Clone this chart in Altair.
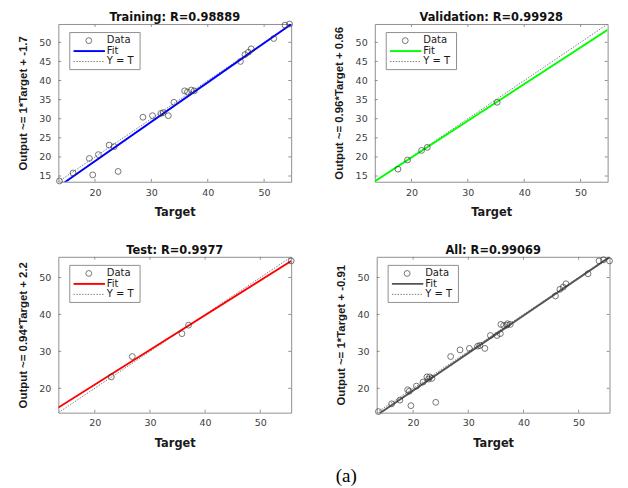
import altair as alt
import pandas as pd

# ---------------- data ----------------
train_target = [13.7, 16.1, 19.0, 19.6, 20.6, 22.5, 23.4, 24.1, 28.5, 30.2, 31.7, 32.1, 33.0,
                34.0, 35.9, 36.4, 37.1, 37.6, 45.8, 46.6, 47.2, 47.7, 51.7, 53.7, 54.5]
train_output = [13.7, 15.8, 19.6, 15.3, 20.6, 23.1, 22.7, 16.2, 30.4, 30.8, 31.4, 31.6, 30.8,
                34.3, 37.3, 37.0, 37.5, 37.3, 45.0, 46.8, 47.4, 48.3, 51.0, 54.5, 54.8]

val_target = [17.6, 19.3, 21.8, 22.8, 35.2]
val_output = [16.8, 19.2, 21.7, 22.5, 34.3]

test_target = [23.0, 26.8, 35.8, 37.0, 55.6]
test_output = [23.1, 28.6, 34.8, 37.1, 54.5]

all_target = train_target + val_target + test_target
all_output = train_output + val_output + test_output

# fit coefficients (slope, intercept)
train_fit = (1.03, -1.7)
val_fit = (0.96, 0.66)
test_fit = (0.94, 2.2)
all_fit = (1.015, -0.91)

dom_small = [13.5, 54.8]
dom_large = [13.4, 55.6]

x_ticks = [20, 30, 40, 50]
y_ticks_fine = [15, 20, 25, 30, 35, 40, 45, 50]
y_ticks_coarse = [20, 30, 40, 50]

titles = ["Training: R=0.98889", "Validation: R=0.99928", "Test: R=0.9977", "All: R=0.99069"]
ylabels = ["Output ~= 1*Target + -1.7", "Output ~= 0.96*Target + 0.66",
           "Output ~= 0.94*Target + 2.2", "Output ~= 1*Target + -0.91"]
fit_colors = ["#0000ff", "#00ff00", "#ff0000", "#555555"]
legend_labels = ["Data", "Fit", "Y = T"]
caption = "(a)"

W = 245
one = pd.DataFrame({"k": [0]})


def panel(title, ylabel, tx, ty, fit, color, dom, yticks, H):
    slope, icpt = fit
    xenc = alt.X("Target:Q", scale=alt.Scale(domain=dom, nice=False, zero=False),
                 axis=alt.Axis(values=x_ticks, title="Target"))
    yenc = alt.Y("Output:Q", scale=alt.Scale(domain=dom, nice=False, zero=False),
                 axis=alt.Axis(values=yticks, title=ylabel))

    pts = pd.DataFrame({"Target": tx, "Output": ty})
    ident = pd.DataFrame({"Target": dom, "Output": dom})
    fitdf = pd.DataFrame({"Target": dom, "Output": [slope * d + icpt for d in dom]})
    xt = pd.DataFrame({"Target": x_ticks})
    yt = pd.DataFrame({"Output": yticks})

    identity = alt.Chart(ident).mark_line(color="#777777", strokeWidth=1,
                                          strokeDash=[1.5, 1.5], clip=True).encode(x=xenc, y=yenc)
    fitline = alt.Chart(fitdf).mark_line(color=color, strokeWidth=2, clip=True).encode(x=xenc, y=yenc)
    points = alt.Chart(pts).mark_point(shape="circle", filled=False, color="#333333",
                                       size=38, strokeWidth=1).encode(x=xenc, y=yenc)

    tb = alt.Chart(xt).mark_rule(color="#8a8a8a").encode(x=xenc, y=alt.value(H), y2=alt.value(H - 3))
    tt = alt.Chart(xt).mark_rule(color="#8a8a8a").encode(x=xenc, y=alt.value(0), y2=alt.value(3))
    tl = alt.Chart(yt).mark_rule(color="#8a8a8a").encode(y=yenc, x=alt.value(0), x2=alt.value(3))
    tr = alt.Chart(yt).mark_rule(color="#8a8a8a").encode(y=yenc, x=alt.value(W), x2=alt.value(W - 3))

    # legend box (MATLAB style, inside plot, upper left)
    box = alt.Chart(one).mark_rect(fill="white", stroke="#8a8a8a", strokeWidth=1).encode(
        x=alt.value(12), x2=alt.value(86), y=alt.value(9), y2=alt.value(48))
    lg_pt = alt.Chart(one).mark_point(shape="circle", filled=False, color="#333333", size=38,
                                      strokeWidth=1).encode(x=alt.value(32), y=alt.value(17.5))
    lg_fit = alt.Chart(one).mark_rule(color=color, strokeWidth=2).encode(
        x=alt.value(16), x2=alt.value(49), y=alt.value(28.5))
    lg_id = alt.Chart(one).mark_rule(color="#777777", strokeWidth=1, strokeDash=[1.5, 1.5]).encode(
        x=alt.value(16), x2=alt.value(49), y=alt.value(39.5))
    texts = []
    for lab, yy in zip(legend_labels, [17.5, 28.5, 39.5]):
        texts.append(alt.Chart(one).mark_text(text=lab, align="left", baseline="middle",
                                              font="DejaVu Sans", fontSize=10.5, color="#1a1a1a").encode(
            x=alt.value(51), y=alt.value(yy)))

    ttl = alt.Chart(one).mark_text(text=title, align="center", baseline="alphabetic",
                                   font="DejaVu Sans", fontSize=12, fontWeight="bold",
                                   color="#111111").encode(x=alt.value(W / 2), y=alt.value(-3.5))

    return alt.layer(identity, fitline, points, tb, tt, tl, tr, box, lg_pt, lg_fit, lg_id, *texts, ttl).properties(
        width=W, height=H)


p1 = panel(titles[0], ylabels[0], train_target, train_output, train_fit, fit_colors[0], dom_small, y_ticks_fine, 166)
p2 = panel(titles[1], ylabels[1], val_target, val_output, val_fit, fit_colors[1], dom_small, y_ticks_fine, 166)
p3 = panel(titles[2], ylabels[2], test_target, test_output, test_fit, fit_colors[2], dom_large, y_ticks_coarse, 164)
p4 = panel(titles[3], ylabels[3], all_target, all_output, all_fit, fit_colors[3], dom_large, y_ticks_coarse, 164)

top = alt.hconcat(p1, p2, spacing=39)
bottom = alt.hconcat(p3, p4, spacing=39)

cap = alt.Chart(one).mark_text(text=caption, align="center", baseline="middle",
                               font="Liberation Serif", fontSize=20, color="black").encode(
    x=alt.value(303), y=alt.value(19)).properties(
    width=590, height=26, view=alt.ViewBackground(stroke="transparent"))

grid = alt.vconcat(top, bottom, spacing=26)

chart = alt.vconcat(grid, cap, spacing=8).properties(
    padding={"left": 8, "top": -10, "right": 0, "bottom": 0},
).configure_view(stroke="#8a8a8a", strokeWidth=1).configure_axis(
    domain=False, ticks=False, grid=False,
    labelFont="DejaVu Sans", labelFontSize=10, labelColor="#404040",
).configure_axisX(
    labelPadding=6, titlePadding=11, titleFont="DejaVu Sans", titleFontSize=12,
    titleFontWeight="bold", titleColor="#1a1a1a",
).configure_axisY(
    labelPadding=8, titlePadding=10, titleFont="Liberation Sans", titleFontSize=12,
    titleFontWeight="bold", titleColor="#1a1a1a",
)

chart.save("out.html", embed_options={"renderer": "svg", "actions": False})
